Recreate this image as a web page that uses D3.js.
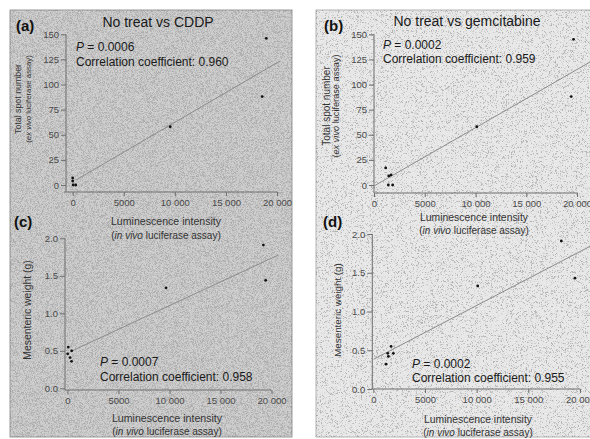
<!DOCTYPE html>
<html>
<head>
<meta charset="utf-8">
<script src="https://cdnjs.cloudflare.com/ajax/libs/d3/7.8.5/d3.min.js"></script>
<style>
body { margin: 0; background: #fff; }
svg { display: block; font-family: "Liberation Sans", Arial, sans-serif; }
</style>
</head>
<body>
<div id="chart"></div>
<script>
// (a) no treat vs CDDP, total spot number
var lumA = [0, 0, 50, 300, 9550, 18550, 18950];
var spotA = [7, 4, 0, 0, 58, 88, 146];
var fitA = [[330, 5], [20300, 123.5]];

// (b) no treat vs gemcitabine, total spot number
var lumB = [1150, 1450, 1680, 1410, 1840, 10130, 19430, 19660];
var spotB = [17, 9, 10, 0, 0, 58, 88, 145];
var fitB = [[0, -1], [21300, 122.5]];

// (c) no treat vs CDDP, mesenteric weight
var lumC = [80, 410, 20, 250, 400, 9660, 19200, 19430];
var weightC = [0.55, 0.5, 0.46, 0.41, 0.36, 1.34, 1.91, 1.44];
var fitC = [[410, 0.497], [20670, 1.777]];

// (d) no treat vs gemcitabine, mesenteric weight
var lumD = [1720, 1400, 1460, 1940, 1230, 10100, 18190, 19510];
var weightD = [0.55, 0.46, 0.42, 0.46, 0.32, 1.33, 1.91, 1.43];
var fitD = [[50, 0.385], [21100, 1.85]];

var xTicks = [0, 5000, 10000, 15000, 20000];
var xTickLabels = ["0", "5000", "10 000", "15 000", "20 000"];
var spotTicks = [0, 25, 50, 75, 100, 125, 150];
var weightTicks = [0, 0.5, 1, 1.5, 2];
var weightTickLabels = ["0.0", "0.5", "1.0", "1.5", "2.0"];

var titles = ["No treat vs CDDP", "No treat vs gemcitabine"];
var pValues = ["0.0006", "0.0002", "0.0007", "0.0002"];
var coefs = ["0.960", "0.959", "0.958", "0.955"];

var width = 590, height = 439;

var svg = d3.select("div#chart").append("svg")
		.attr("width", width)
		.attr("height", height);

var defs = svg.append("defs");

// fine scanner grain; the alpha row decides how dense the speckle is
function grain(id, alphaRow, seed) {
	var f = defs.append("filter")
			.attr("id", id)
			.attr("x", 0).attr("y", 0).attr("width", "100%").attr("height", "100%");
	f.append("feTurbulence")
		.attr("type", "fractalNoise")
		.attr("baseFrequency", 2.2)
		.attr("numOctaves", 2)
		.attr("seed", seed);
	f.append("feColorMatrix")
		.attr("type", "matrix")
		.attr("values", "0 0 0 0 0  0 0 0 0 0  0 0 0 0 0  " + alphaRow);
}
grain("grainDark", "4 0 0 0 -1.7", 3);
grain("grainLight", "7 0 0 0 -3.9", 7);

// the two scanned boxes
var boxes = [
	{x: 10, y: 10, w: 282, h: 427, fill: "#cfcfcf", grain: "grainDark", op: 0.16, stroke: "#9a9a9a"},
	{x: 316, y: 10, w: 290, h: 427, fill: "#e8e8e8", grain: "grainLight", op: 0.22, stroke: "#b4b4b4"}
];

boxes.forEach(function(b) {
	svg.append("rect")
		.attr("x", b.x).attr("y", b.y)
		.attr("width", b.w).attr("height", b.h)
		.attr("fill", b.fill)
		.attr("stroke", b.stroke);
	svg.append("rect")
		.attr("x", b.x).attr("y", b.y)
		.attr("width", b.w).attr("height", b.h)
		.attr("filter", "url(#" + b.grain + ")")
		.attr("opacity", b.op);
});

var panels = [
	{tag: "(a)", tagX: 16, tagY: 31, title: titles[0], titleX: 158, titleY: 27,
		lum: lumA, val: spotA, fit: fitA, yTicks: spotTicks, yLabels: spotTicks.map(String), yMax: 150,
		xr: [72.7, 277], yr: [185, 34.3], yAxisX: 66, xAxisY: 192, axisX0: 64,
		stat: [76, 51, 66], p: pValues[0], r: coefs[0],
		xt: [166, 225, 239, 10.6, 10], yt: [[21, 8.8, "Total spot number"], [31, 7.8, null]], ytY: 99},
	{tag: "(b)", tagX: 324, tagY: 31, title: titles[1], titleX: 467, titleY: 26,
		lum: lumB, val: spotB, fit: fitB, yTicks: spotTicks, yLabels: spotTicks.map(String), yMax: 150,
		xr: [374, 577], yr: [185, 34.3], yAxisX: 374, xAxisY: 193, axisX0: 374,
		stat: [383, 49, 63], p: pValues[1], r: coefs[1],
		xt: [474, 221, 234, 10.4, 10], yt: [[330, 10, "Total spot number"], [339, 9.2, null]], ytY: 106},
	{tag: "(c)", tagX: 14, tagY: 227, title: null,
		lum: lumC, val: weightC, fit: fitC, yTicks: weightTicks, yLabels: weightTickLabels, yMax: 2,
		xr: [67.5, 271.5], yr: [388.3, 238.3], yAxisX: 65, xAxisY: 390, axisX0: 65,
		stat: [100, 366, 381], p: pValues[2], r: coefs[2],
		xt: [167, 422, 435, 10.6, 10], yt: [[31, 10.4, "Mesenteric weight (g)"]], ytY: 310},
	{tag: "(d)", tagX: 323, tagY: 227, title: null,
		lum: lumD, val: weightD, fit: fitD, yTicks: weightTicks, yLabels: weightTickLabels, yMax: 2,
		xr: [373.3, 580], yr: [389, 234], yAxisX: 372.3, xAxisY: 389, axisX0: 372.3,
		stat: [412, 368, 382], p: pValues[3], r: coefs[3],
		xt: [478, 423, 436, 10.4, 10], yt: [[341, 9.8, "Mesenteric weight (g)"]], ytY: 310}
];

panels.forEach(function(p) {
	var x = d3.scaleLinear()
			.domain([0, 20000])
			.range(p.xr);

	var y = d3.scaleLinear()
			.domain([0, p.yMax])
			.range(p.yr);

	var g = svg.append("g");

	// y axis
	var yAxis = d3.axisLeft(y)
			.tickValues(p.yTicks)
			.tickFormat(function(d, i) { return p.yLabels[i]; })
			.tickSize(5)
			.tickPadding(2)
			.tickSizeOuter(0);

	var ya = g.append("g")
		.attr("class", "y axis")
		.attr("transform", "translate(" + p.yAxisX + ",0)")
		.call(yAxis);
	ya.select(".domain").remove();
	ya.append("line")
		.attr("y1", y(p.yMax)).attr("y2", Math.max(y(0), p.xAxisY))
		.attr("stroke", "#6e6e6e");

	// x axis
	var xAxis = d3.axisBottom(x)
			.tickValues(xTicks)
			.tickFormat(function(d, i) { return xTickLabels[i]; })
			.tickSize(4)
			.tickPadding(3)
			.tickSizeOuter(0);

	var xa = g.append("g")
		.attr("class", "x axis")
		.attr("transform", "translate(0," + p.xAxisY + ")")
		.call(xAxis);
	xa.select(".domain").remove();
	xa.append("line")
		.attr("x1", p.axisX0).attr("x2", x(20000))
		.attr("stroke", "#7a7a7a");

	g.selectAll(".axis line").attr("stroke", "#6e6e6e");
	g.selectAll(".axis text")
		.attr("fill", "#4a4a4a")
		.style("font-size", "9.5px")
		.style("font-family", "'Liberation Sans', Arial, sans-serif");

	// regression line
	var line = d3.line()
			.x(function(d) { return x(d[0]); })
			.y(function(d) { return y(d[1]); });

	g.append("path")
		.datum(p.fit)
		.attr("d", line)
		.attr("fill", "none")
		.attr("stroke", "#8c8c8c")
		.attr("stroke-width", 1);

	// points
	g.selectAll("circle")
		.data(p.lum)
		.enter()
		.append("circle")
		.attr("cx", function(d) { return x(d); })
		.attr("cy", function(d, i) { return y(p.val[i]); })
		.attr("r", 1.4)
		.attr("fill", "#111");

	// panel tag and title
	g.append("text")
		.attr("x", p.tagX).attr("y", p.tagY)
		.style("font-size", "15px")
		.style("font-weight", "bold")
		.attr("fill", "#111")
		.text(p.tag);

	if (p.title) {
		g.append("text")
			.attr("x", p.titleX).attr("y", p.titleY)
			.attr("text-anchor", "middle")
			.style("font-size", "14px")
			.attr("fill", "#1a1a1a")
			.text(p.title);
	}

	// statistics
	var st = g.append("text")
		.attr("x", p.stat[0]).attr("y", p.stat[1])
		.style("font-size", "12px")
		.attr("fill", "#1a1a1a");
	st.append("tspan").style("font-style", "italic").text("P");
	st.append("tspan").text(" = " + p.p);

	g.append("text")
		.attr("x", p.stat[0]).attr("y", p.stat[2])
		.style("font-size", "12px")
		.attr("fill", "#1a1a1a")
		.text("Correlation coefficient: " + p.r);

	// x axis title
	g.append("text")
		.attr("x", p.xt[0]).attr("y", p.xt[1])
		.attr("text-anchor", "middle")
		.style("font-size", p.xt[3] + "px")
		.attr("fill", "#333")
		.text("Luminescence intensity");

	var xt2 = g.append("text")
		.attr("x", p.xt[0]).attr("y", p.xt[2])
		.attr("text-anchor", "middle")
		.style("font-size", p.xt[4] + "px")
		.attr("fill", "#333");
	xt2.append("tspan").text("(");
	xt2.append("tspan").style("font-style", "italic").text("in vivo");
	xt2.append("tspan").text(" luciferase assay)");

	// y axis title
	p.yt.forEach(function(t) {
		var txt = g.append("text")
			.attr("text-anchor", "middle")
			.attr("transform", "translate(" + t[0] + "," + p.ytY + ") rotate(-90)")
			.style("font-size", t[1] + "px")
			.attr("fill", "#333");
		if (t[2]) {
			txt.text(t[2]);
		} else {
			txt.append("tspan").text("(");
			txt.append("tspan").style("font-style", "italic").text("ex vivo");
			txt.append("tspan").text(" luciferase assay)");
		}
	});
});
</script>
</body>
</html>
